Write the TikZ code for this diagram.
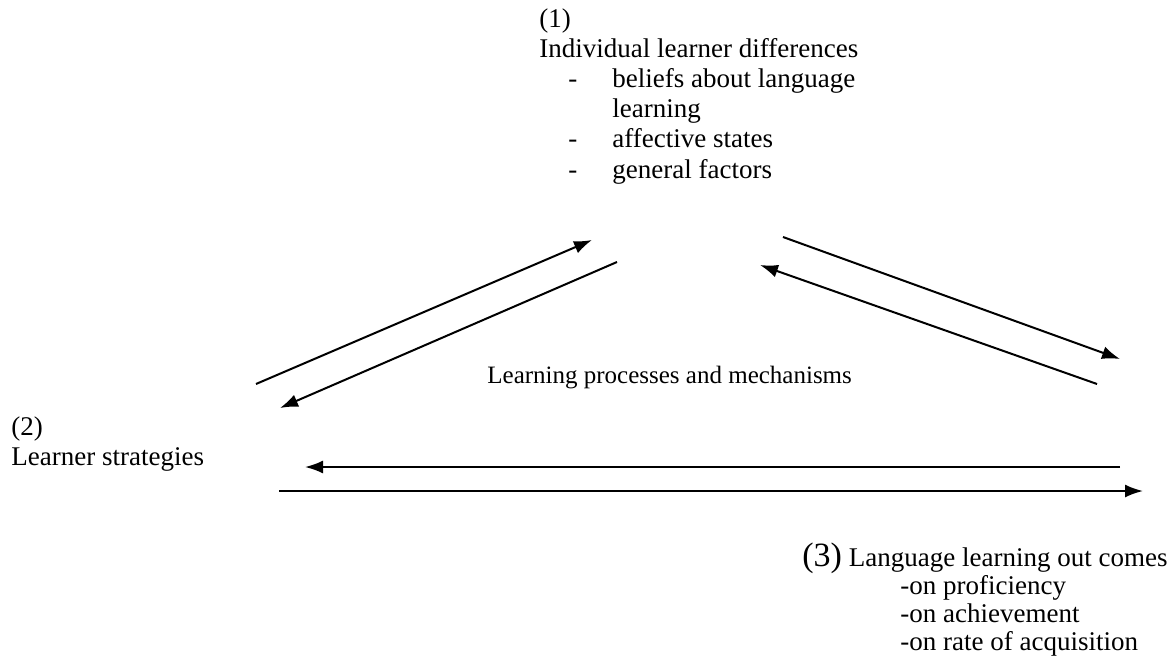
\documentclass[tikz,border=0pt]{standalone}
\usepackage{fontspec}
\setmainfont{Liberation Serif}
\usetikzlibrary{arrows.meta,positioning}

\begin{document}
\begin{tikzpicture}[x=0.5pt, y=-0.5pt,
			txt/.style={inner sep=0pt, anchor=base west, font=\fontsize{13.5}{15}\selectfont},
			link/.style={line width=1pt, ->},
			>={Latex[length=9pt,width=6.5pt]}]
	\useasboundingbox (0,0) rectangle (1172,658);
	% (1) individual learner differences
	\node[txt] (one) at (539,28) {(1)};
	\node[txt] (diff) at (539,58) {Individual learner differences};
	\foreach \t/\y in {beliefs about language/88, affective states/148, general factors/178}{
		\node[txt] (dash\y) at (568,\y) {-};
		\node[txt] (item\y) at (612,\y) {\t};
	}
	\node[txt] (item118) at (612,118) {learning};
	% (2) learner strategies
	\node[txt] (two) at (11,435) {(2)};
	\node[txt] (strat) at (11,465) {Learner strategies};
	% (3) outcomes
	\node[txt] (three) at (802,566) {\fontsize{17}{15}\selectfont(3)};
	\node[txt, right=3pt of three.base east, anchor=base west] (outc) {Language learning out comes};
	\foreach \t/\y in {proficiency/594, achievement/622, rate of acquisition/650}
		\node[txt] (out\y) at (900,\y) {-on \t};
	% middle
	\node[txt, font=\fontsize{12.5}{15}\selectfont] (proc) at (487,383) {Learning processes and mechanisms};
	% arrow ends
	\coordinate (a1s) at (256,384); \coordinate (a1e) at (592,240);
	\coordinate (a2s) at (617,262); \coordinate (a2e) at (280,408);
	\coordinate (a3s) at (783,237); \coordinate (a3e) at (1120,359);
	\coordinate (a4s) at (1097,384); \coordinate (a4e) at (760,265);
	\coordinate (a5s) at (1120,467); \coordinate (a5e) at (305,467);
	\coordinate (a6s) at (279,491); \coordinate (a6e) at (1143,491);
	\draw[link] (a1s) -- (a1e);
	\draw[link] (a2s) -- (a2e);
	\draw[link] (a3s) -- (a3e);
	\draw[link] (a4s) -- (a4e);
	\draw[link] (a5s) -- (a5e);
	\draw[link] (a6s) -- (a6e);
\end{tikzpicture}
\end{document}
